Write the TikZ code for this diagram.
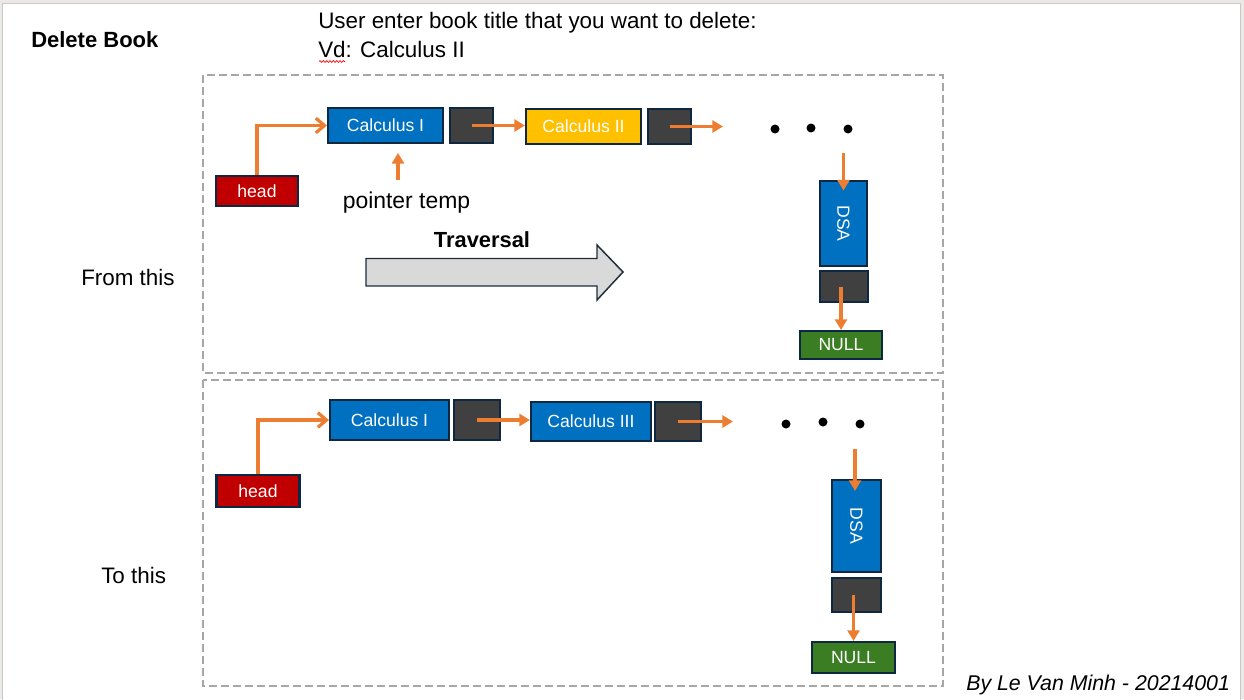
\documentclass[tikz,border=0pt]{standalone}
\usepackage{fontspec}
\setmainfont{Liberation Sans}
\usetikzlibrary{arrows.meta,decorations.pathmorphing,calc}
\definecolor{navy}{HTML}{0E2841}
\definecolor{dblue}{HTML}{0070C0}
\definecolor{gold}{HTML}{FFC000}
\definecolor{dred}{HTML}{C00000}
\definecolor{dgreen}{HTML}{3A7D22}
\definecolor{ptrgray}{HTML}{404040}
\definecolor{orng}{HTML}{ED7D31}
\definecolor{dashgray}{HTML}{A6A6A6}
\definecolor{arrowfill}{HTML}{D9D9D9}
\definecolor{arrowline}{HTML}{1F2D3A}
\definecolor{pagebg}{HTML}{ECE8E6}
\definecolor{pageedge}{HTML}{C9C9C9}
\begin{document}
\begin{tikzpicture}[x=0.75pt,y=-0.75pt,
  box/.style={draw=navy, line width=1.6pt, text=white, inner sep=0pt,
    font=\fontsize{13.2}{15}\selectfont},
  sz/.style 2 args={minimum width=#1*0.75pt, minimum height=#2*0.75pt},
  calc/.style={box, fill=dblue},
  ptr/.style={box, fill=ptrgray},
  headbox/.style={box, fill=dred},
  nullbox/.style={box, fill=dgreen},
  dotnode/.style={circle, fill=black, inner sep=0pt, minimum size=9*0.75pt},
  link/.style={draw=orng, line width=2.4pt},
  tri/.style={link, -{Triangle[length=8pt,width=9pt]}},
  chev/.style={link, -{Straight Barb[length=6.5pt,width=11pt]}},
  txt/.style={inner sep=0pt, text=black, font=\fontsize{16.8}{19}\selectfont},
  frame/.style={draw=dashgray, line width=1.5pt, dash pattern=on 6pt off 3pt}]
\useasboundingbox (0,0) rectangle (1244,699);
\fill[pagebg] (0,0) rectangle (1244,699);
\draw[pageedge, fill=white, line width=0.75pt] (2,4) rectangle (1240,702);

% titles
\node[txt, font=\bfseries\fontsize{16.5}{19}\selectfont, anchor=base west] (title) at (31,48) {Delete Book};
\node[txt, anchor=base west] (q1) at (318,29) {User enter book title that you want to delete:};
\node[txt, anchor=base west] (q2) at (318,58) {Vd: Calculus II};
\draw[red, line width=0.5pt, decorate, decoration={snake, amplitude=0.7pt, segment length=2.5pt}] (319,61.5) -- (345,61.5);
\node[txt, anchor=base west] (from) at (81,285) {From this};
\node[txt, anchor=base west] (to) at (101,583) {To this};
\node[txt, font=\itshape\fontsize{16}{19}\selectfont, anchor=base west] (by) at (966,690) {By Le Van Minh - 20214001};

% frames
\draw[frame] (203,75) rectangle (943,373);
\draw[frame] (203,380) rectangle (943,686);

% ---- top list ----
\node[headbox, sz={82}{30}] (head1) at (257,191) {head};
\node[calc, sz={115}{35}] (c1) at (385.5,125.5) {Calculus I};
\node[ptr, sz={43}{35}] (p1) at (471.5,125.5) {};
\node[box, fill=gold, sz={115}{35}] (c2) at (583.5,126.5) {Calculus II};
\node[ptr, sz={43}{35}] (p2) at (669.5,126.5) {};
\node[dotnode] (d1) at (775,129) {};
\node[dotnode] (d2) at (811,128) {};
\node[dotnode] (d3) at (848,129) {};
\node[calc, sz={47}{85}] (dsa1) at (843.5,223.5) {\rotatebox{-90}{DSA}};
\node[ptr, sz={48}{31}] (pd1) at (844,286.5) {};
\node[nullbox, sz={82}{28}] (null1) at (841,345) {NULL};

\draw[chev] (head1.north) |- (c1.west);
\draw[tri] (p1.center) -- (p1.center -| c2.west);
\coordinate (e2) at (723,126.5);
\draw[tri] (p2.center) -- (e2);
\coordinate (s3) at (843.5,153);
\draw[tri] (s3) -- ([yshift=-8pt]dsa1.north);
\draw[tri] (null1.north |- pd1.center) -- (null1.north);

\node[txt, font=\fontsize{17.2}{19}\selectfont, anchor=base] (ptemp) at (406.5,208) {pointer temp};
\coordinate (pt1) at (398,180);
\coordinate (pt2) at (398,153);
\draw[tri] (pt1) -- (pt2);

\node[txt, font=\bfseries\fontsize{16.4}{19}\selectfont, anchor=base] (trav) at (482,247) {Traversal};
\draw[arrowline, fill=arrowfill, line width=1.1pt, line join=miter]
  (366,258.5) -- (597,258.5) -- (597,245) -- (623,272) -- (597,300) -- (597,286) -- (366,286) -- cycle;

% ---- bottom list ----
\node[headbox, sz={83}{32}] (head2) at (258,491) {head};
\node[calc, sz={119}{40}] (c1b) at (389.5,420) {Calculus I};
\node[ptr, sz={46}{40}] (p1b) at (477,420) {};
\node[calc, sz={120}{39}] (c3b) at (591,421.5) {Calculus III};
\node[ptr, sz={46}{39}] (p3b) at (678,421.5) {};
\node[dotnode] (d4) at (786,424) {};
\node[dotnode] (d5) at (823,422) {};
\node[dotnode] (d6) at (860,424) {};
\node[calc, sz={49}{92}] (dsa2) at (856.5,526) {\rotatebox{-90}{DSA}};
\node[ptr, sz={49}{34}] (pd2) at (856.5,595) {};
\node[nullbox, sz={83}{31}] (null2) at (853.5,657.5) {NULL};

\draw[chev] (head2.north) |- (c1b.west);
\draw[tri] (p1b.center) -- (p1b.center -| c3b.west);
\coordinate (e5) at (733,421.5);
\draw[tri] (p3b.center) -- (e5);
\coordinate (s6) at (855,449);
\draw[tri] (s6) -- ([yshift=-9pt]s6 |- dsa2.north);
\draw[tri] (null2.north |- pd2.center) -- (null2.north);
\end{tikzpicture}
\end{document}
